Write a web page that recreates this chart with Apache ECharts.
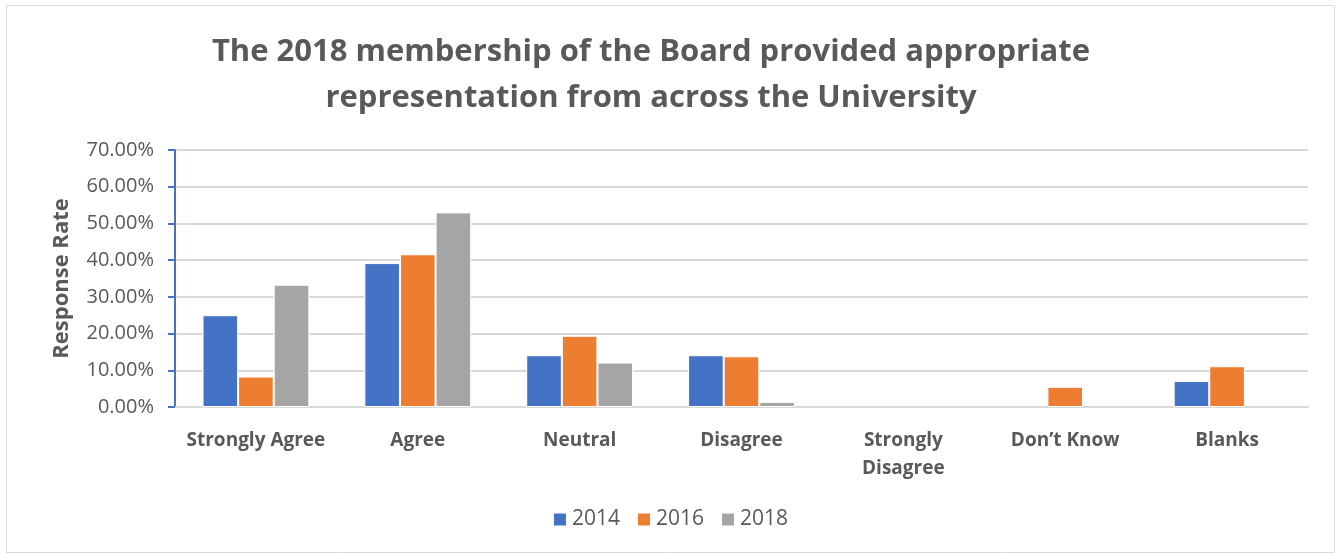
<!DOCTYPE html>
<html>
<head>
<meta charset="utf-8">
<script src="https://cdn.jsdelivr.net/npm/echarts@6/dist/echarts.min.js"></script>
<style>
    html, body { margin: 0; padding: 0; background: #fff; }
    #main { width: 1340px; height: 555px; }
</style>
</head>
<body>
<div id="main"></div>
<script>
    // 数据
    var categories = ['Strongly Agree', 'Agree', 'Neutral', 'Disagree', 'Strongly\nDisagree', 'Don\u2019t Know', 'Blanks'];
    var years = ['2014', '2016', '2018'];
    var data2014 = [25.0, 39.2, 14.1, 14.1, 0, 0, 7.1];
    var data2016 = [8.3, 41.6, 19.4, 13.8, 0, 5.5, 11.1];
    var data2018 = [33.3, 53.0, 12.1, 1.4, 0, 0, 0];
    var colors = ['#4472c4', '#ed7d31', '#a5a5a5'];

    var chart = echarts.init(document.getElementById('main'));

    function bar(name, values, color) {
        return {
            name: name,
            type: 'bar',
            // 0 值不画柱子（避免白边残留）
            data: values.map(function (v) { return v === 0 ? '-' : v; }),
            barGap: '0%',
            barCategoryGap: '34%',
            itemStyle: { color: color, borderColor: '#ffffff', borderWidth: 1 }
        };
    }

    chart.setOption({
        animation: false,
        textStyle: { fontFamily: 'Open Sans', color: '#595959' },
        graphic: [{
            type: 'rect',
            shape: { x: 6.5, y: 5.5, width: 1328, height: 547 },
            style: { fill: 'none', stroke: '#d9d9d9', lineWidth: 1 }
        }],
        title: {
            text: 'The 2018 membership of the Board provided appropriate\nrepresentation from across the University',
            left: 646,
            textAlign: 'center',
            top: 24,
            textStyle: { fontSize: 31, fontWeight: 'bold', color: '#595959', lineHeight: 46 }
        },
        legend: {
            data: years,
            bottom: 20,
            left: 'center',
            itemWidth: 14,
            itemHeight: 14,
            itemGap: 16,
            icon: 'rect',
            textStyle: { fontSize: 21, color: '#595959' }
        },
        grid: { left: 175, right: 32, top: 150, bottom: 148 },
        xAxis: {
            type: 'category',
            data: categories,
            axisLine: { lineStyle: { color: '#d9d9d9', width: 2 } },
            axisTick: { show: false },
            axisLabel: { fontSize: 19, fontWeight: 'bold', color: '#595959', margin: 20, lineHeight: 28, interval: 0 }
        },
        yAxis: {
            type: 'value',
            min: 0,
            max: 70,
            interval: 10,
            name: 'Response Rate',
            nameLocation: 'middle',
            nameGap: 102,
            nameTextStyle: { fontSize: 22, fontWeight: 'bold', color: '#595959' },
            axisLine: { show: true, lineStyle: { color: '#4472c4', width: 2 } },
            axisTick: { show: true, inside: false, length: 7, lineStyle: { color: '#4472c4', width: 2 } },
            axisLabel: {
                fontSize: 20,
                color: '#595959',
                margin: 21,
                formatter: function (v) { return v.toFixed(2) + '%'; }
            },
            splitLine: { lineStyle: { color: '#d9d9d9', width: 2 } }
        },
        series: [
            bar(years[0], data2014, colors[0]),
            bar(years[1], data2016, colors[1]),
            bar(years[2], data2018, colors[2])
        ]
    });
</script>
</body>
</html>
